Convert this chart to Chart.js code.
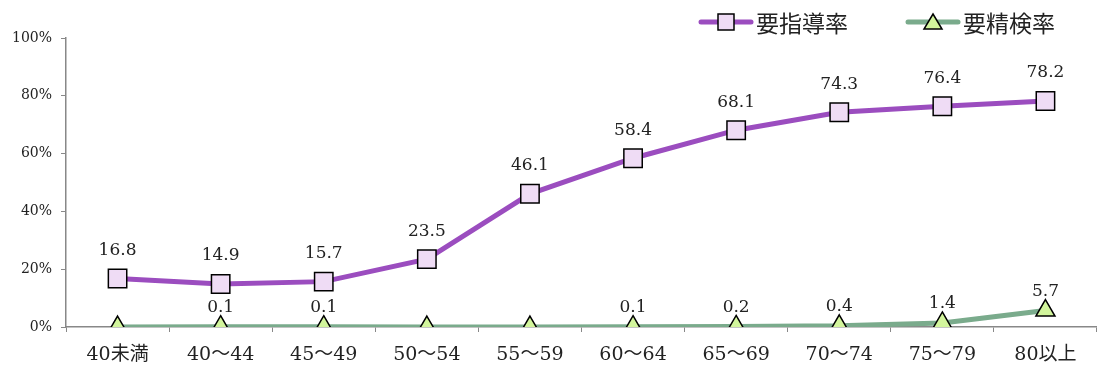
<!DOCTYPE html>
<html>
<head>
<meta charset="utf-8">
<script src="https://cdn.jsdelivr.net/npm/chart.js@4"></script>
<style>
  html, body { margin: 0; padding: 0; background: #fff; overflow: hidden; }
  #wrap { width: 1097px; height: 368px; }
  canvas { display: block; }
</style>
</head>
<body>
<div id="wrap"><canvas id="chart"></canvas></div>
<script>
// 年齢階級
const categories = ['40未満', '40～44', '45～49', '50～54', '55～59', '60～64', '65～69', '70～74', '75～79', '80以上'];
// 要指導率 (%)
const shidouValues = [16.8, 14.9, 15.7, 23.5, 46.1, 58.4, 68.1, 74.3, 76.4, 78.2];
// 要精検率 (%)
const seikenValues = [0.0, 0.1, 0.1, 0.0, 0.0, 0.1, 0.2, 0.4, 1.4, 5.7];
const yTicks = [0, 20, 40, 60, 80, 100];

const SERIF = '"DejaVu Serif", "Liberation Serif", "Noto Sans CJK JP", serif';

// データラベル（0 は表示しない）
const labelPlugin = {
    id: 'valueLabels',
    afterDatasetsDraw(chart) {
        const ctx = chart.ctx;
        ctx.save();
        ctx.font = '17px ' + SERIF;
        ctx.fillStyle = '#222';
        ctx.textAlign = 'center';
        ctx.textBaseline = 'middle';
        chart.data.datasets.forEach((ds, i) => {
            const meta = chart.getDatasetMeta(i);
            meta.data.forEach((pt, j) => {
                const v = ds.data[j];
                if (v === 0) return;
                ctx.fillText(v.toFixed(1), pt.x, pt.y - ds.labelOffset);
            });
        });
        ctx.restore();
    }
};

// 凡例（線＋マーカー）
const legendPlugin = {
    id: 'lineLegend',
    afterDraw(chart) {
        const ctx = chart.ctx;
        const items = [
            { ds: chart.data.datasets[0], x: 701 },
            { ds: chart.data.datasets[1], x: 908 }
        ];
        const y = 22;
        ctx.save();
        items.forEach(it => {
            ctx.strokeStyle = it.ds.borderColor;
            ctx.lineWidth = 5;
            ctx.lineCap = 'round';
            ctx.beginPath();
            ctx.moveTo(it.x, y);
            ctx.lineTo(it.x + 50, y);
            ctx.stroke();
            ctx.fillStyle = it.ds.pointBackgroundColor;
            ctx.strokeStyle = '#000';
            ctx.lineWidth = 1.5;
            ctx.lineCap = 'butt';
            ctx.beginPath();
            if (it.ds.pointStyle === 'triangle') {
                ctx.moveTo(it.x + 25, y - 8);
                ctx.lineTo(it.x + 34, y + 7);
                ctx.lineTo(it.x + 16, y + 7);
                ctx.closePath();
            } else {
                ctx.rect(it.x + 17, y - 8, 16, 16);
            }
            ctx.fill();
            ctx.stroke();
            ctx.fillStyle = '#222';
            ctx.font = '23px "Noto Sans CJK JP", sans-serif';
            ctx.textAlign = 'left';
            ctx.textBaseline = 'middle';
            ctx.fillText(it.ds.label, it.x + 55, y + 1);
        });
        ctx.restore();
    }
};

new Chart(document.getElementById('chart'), {
    type: 'line',
    data: {
        labels: categories,
        datasets: [
            {
                label: '要指導率',
                data: shidouValues,
                borderColor: '#9b4dbf',
                borderWidth: 5,
                pointStyle: 'rect',
                pointRadius: 13,
                pointBackgroundColor: '#efdcf5',
                pointBorderColor: '#000',
                pointBorderWidth: 1.5,
                labelOffset: 28,
                tension: 0
            },
            {
                label: '要精検率',
                data: seikenValues,
                borderColor: '#7aab8c',
                borderWidth: 5,
                pointStyle: 'triangle',
                pointRadius: 11,
                pointBackgroundColor: '#d2f59c',
                pointBorderColor: '#000',
                pointBorderWidth: 1.5,
                labelOffset: 19,
                tension: 0
            }
        ]
    },
    options: {
        responsive: true,
        maintainAspectRatio: false,
        animation: false,
        layout: { autoPadding: false, padding: { top: 38, right: 0, left: 0, bottom: 0 } },
        plugins: {
            legend: { display: false },
            tooltip: { enabled: false }
        },
        scales: {
            x: {
                offset: true,
                grid: {
                    display: true,
                    drawOnChartArea: false,
                    drawTicks: true,
                    tickLength: 5,
                    offset: true,
                    color: '#888'
                },
                border: { display: true, color: '#888', width: 1.5 },
                ticks: {
                    color: '#222',
                    font: { family: SERIF, size: 19 },
                    padding: 12,
                    maxRotation: 0
                },
                afterFit(scale) {
                    scale.height = 41;
                }
            },
            y: {
                min: 0,
                max: 100,
                afterBuildTicks(scale) {
                    scale.ticks = yTicks.map(v => ({ value: v }));
                },
                grid: {
                    display: true,
                    drawOnChartArea: false,
                    drawTicks: true,
                    tickLength: 5,
                    color: '#888'
                },
                border: { display: true, color: '#888', width: 1.5 },
                ticks: {
                    color: '#222',
                    font: { family: SERIF, size: 14 },
                    padding: 9,
                    callback: v => v + '%'
                },
                afterFit(scale) {
                    scale.width = 66;
                }
            }
        }
    },
    plugins: [labelPlugin, legendPlugin]
});
</script>
</body>
</html>
